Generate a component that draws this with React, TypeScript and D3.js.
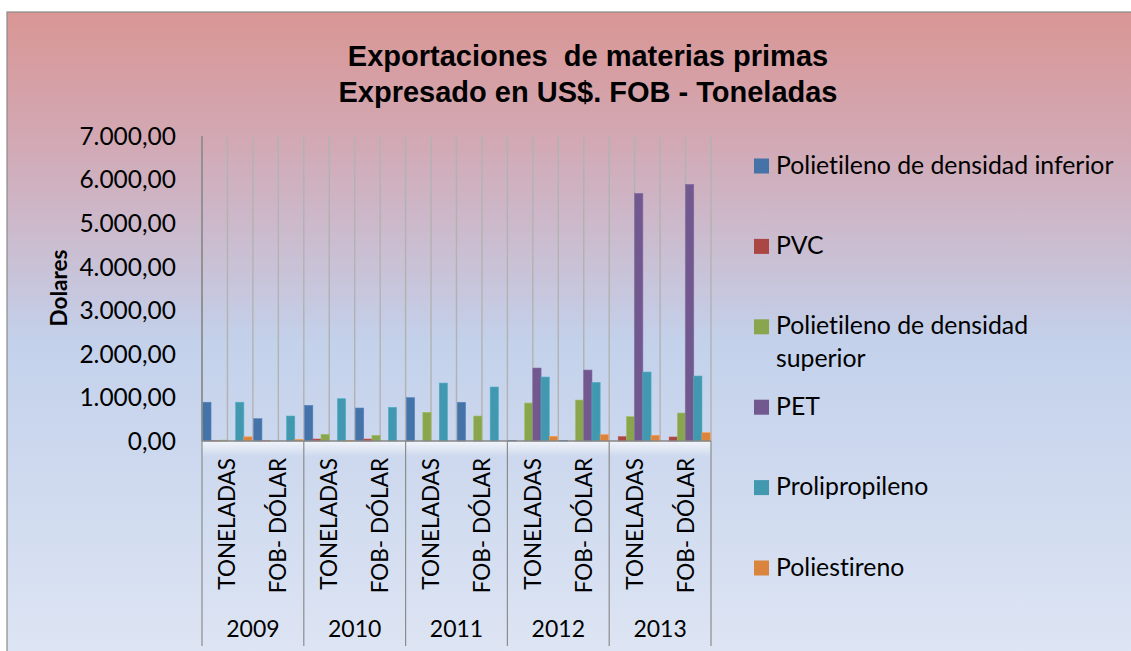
import * as d3 from 'd3'

const years = ['2009', '2010', '2011', '2012', '2013']
const subCats = ['TONELADAS', 'FOB- DÓLAR']

const seriesNames = [
  'Polietileno de densidad inferior',
  'PVC',
  'Polietileno de densidad superior',
  'PET',
  'Prolipropileno',
  'Poliestireno'
]
const seriesColors = ['#4572a7', '#aa4643', '#89a54e', '#71588f', '#4198af', '#db843d']

// order: 2009 TON, 2009 FOB, 2010 TON, 2010 FOB, ...
const pebd = [890, 512, 818, 757, 994, 888, 10, 10, 0, 0]
const pvc = [4, 4, 45, 45, 0, 0, 0, 0, 99, 92]
const pead = [20, 0, 153, 130, 658, 573, 871, 940, 558, 642]
const pet = [0, 0, 0, 0, 0, 0, 1674, 1628, 5680, 5888]
const pp = [890, 573, 970, 773, 1330, 1239, 1468, 1346, 1583, 1491]
const ps = [95, 35, 15, 0, 0, 0, 107, 145, 130, 190]
const seriesValues = [pebd, pvc, pead, pet, pp, ps]

const yTicks = [0, 1000, 2000, 3000, 4000, 5000, 6000, 7000]

const W = 1131
const H = 651
const plot = { left: 202, right: 711, top: 136, bottom: 441 }
const labelFont = 'Lato, "Open Sans", sans-serif'

const locale = d3.formatLocale({ decimal: ',', thousands: '.', grouping: [3], currency: ['$', ''] })
const fmt = locale.format(',.2f')

export default function App() {
  const cats = years.flatMap(y => subCats.map(s => `${y}|${s}`))

  const x = d3.scaleBand().domain(cats).range([plot.left, plot.right]).paddingInner(0).paddingOuter(0)
  const bw = x.bandwidth()
  const inner = d3.scaleBand().domain(seriesNames).range([0, bw]).paddingOuter(0.1)
  const y = d3.scaleLinear().domain([0, 7000]).range([plot.bottom, plot.top])

  const yearX = d3.scaleBand().domain(years).range([plot.left, plot.right])

  // vertical gridlines every half category
  const gridXs = d3.range(cats.length * 2 + 1).map(i => plot.left + (i * bw) / 2)

  const legendX = 754
  const legendY0 = 166
  const legendStep = 80.4

  return (
    <svg width={W} height={H} style={{ position: 'absolute', left: 0, top: 0, fontVariantLigatures: 'none' }}>
      <defs>
        <linearGradient id="bg" x1="0" y1="0" x2="0" y2="1">
          <stop offset="0" stopColor="#d99694" />
          <stop offset="0.2" stopColor="#d2a9b5" />
          <stop offset="0.5" stopColor="#c3d1eb" />
          <stop offset="1" stopColor="#dfe6f4" />
        </linearGradient>
        <linearGradient id="shine" x1="0" y1="0" x2="0" y2="1">
          <stop offset="0" stopColor="#ffffff" stopOpacity="0.75" />
          <stop offset="1" stopColor="#ffffff" stopOpacity="0" />
        </linearGradient>
      </defs>
      <rect x={0} y={0} width={W} height={H} fill="#ffffff" />
      <rect x={7} y={12} width={W + 10} height={H + 10} fill="url(#bg)" stroke="#8a8a8a" strokeWidth={1.2} />

      <text x={588} y={66} textAnchor="middle" fontFamily='"Liberation Sans", Arial, sans-serif'
        fontWeight="bold" fontSize={29} fill="#000">
        <tspan x={588} style={{ whiteSpace: 'pre' }}>Exportaciones  de materias primas</tspan>
        <tspan x={588} dy={36}>Expresado en US$. FOB - Toneladas</tspan>
      </text>

      {/* gridlines */}
      {gridXs.map((gx, i) => (
        <line key={i} x1={gx} x2={gx} y1={plot.top} y2={plot.bottom} stroke="#b2b2b2" strokeWidth={1.4} />
      ))}

      {/* label area shine */}
      <rect x={plot.left} y={plot.bottom} width={plot.right - plot.left} height={16} fill="url(#shine)" />

      {/* bars */}
      {seriesValues.map((vals, si) => (
        <g key={si} fill={seriesColors[si]}>
          {vals.map((v, ci) => {
            if (v <= 0) return null
            const bx = (x(cats[ci]) as number) + (inner(seriesNames[si]) as number)
            return (
              <rect key={ci} x={bx} y={y(v)} width={inner.bandwidth()} height={plot.bottom - y(v)}
                stroke={d3.color(seriesColors[si])!.brighter(0.4).toString()} strokeWidth={0.6} />
            )
          })}
        </g>
      ))}

      {/* axes */}
      <line x1={plot.left} x2={plot.left} y1={plot.top} y2={plot.bottom} stroke="#868686" strokeWidth={1.5} />
      <line x1={plot.left} x2={plot.right} y1={plot.bottom} y2={plot.bottom} stroke="#868686" strokeWidth={1.5} />
      {years.map(yr => (
        <line key={yr} x1={(yearX(yr) as number)} x2={(yearX(yr) as number)} y1={plot.bottom} y2={646}
          stroke="#8c8c8c" strokeWidth={1.2} />
      ))}
      <line x1={plot.right} x2={plot.right} y1={plot.bottom} y2={646} stroke="#8c8c8c" strokeWidth={1.2} />

      {/* y tick labels */}
      {yTicks.map(t => (
        <text key={t} x={176} y={y(t)} dy="0.36em" textAnchor="end" fontFamily={labelFont} fontSize={24.5} fill="#000">
          {fmt(t)}
        </text>
      ))}
      <text transform={`translate(67,288) rotate(-90)`} textAnchor="middle" fontFamily={labelFont}
        fontWeight="bold" fontSize={22.5} fill="#000">Dolares</text>

      {/* category labels */}
      {cats.map(c => {
        const cx = (x(c) as number) + bw / 2
        return (
          <text key={c} transform={`translate(${cx + 8},458) rotate(-90)`} textAnchor="end"
            fontFamily={labelFont} fontSize={22.5} fill="#000">{c.split('|')[1]}</text>
        )
      })}
      {years.map(yr => (
        <text key={yr} x={(yearX(yr) as number) + yearX.bandwidth() / 2} y={637} textAnchor="middle"
          fontFamily={labelFont} fontSize={23} fill="#000">{yr}</text>
      ))}

      {/* legend */}
      {seriesNames.map((name, i) => {
        const cy = legendY0 + i * legendStep
        const lines = i === 2 ? ['Polietileno de densidad', 'superior'] : [name]
        return (
          <g key={name}>
            <rect x={legendX} y={cy - 7.5} width={15} height={15} fill={seriesColors[i]} />
            <text x={776} y={cy + 7.5} fontFamily={labelFont} fontSize={24.8} fill="#000">
              {lines.map((l, li) => (
                <tspan key={li} x={776} dy={li === 0 ? 0 : 32.7}>{l}</tspan>
              ))}
            </text>
          </g>
        )
      })}
    </svg>
  )
}
